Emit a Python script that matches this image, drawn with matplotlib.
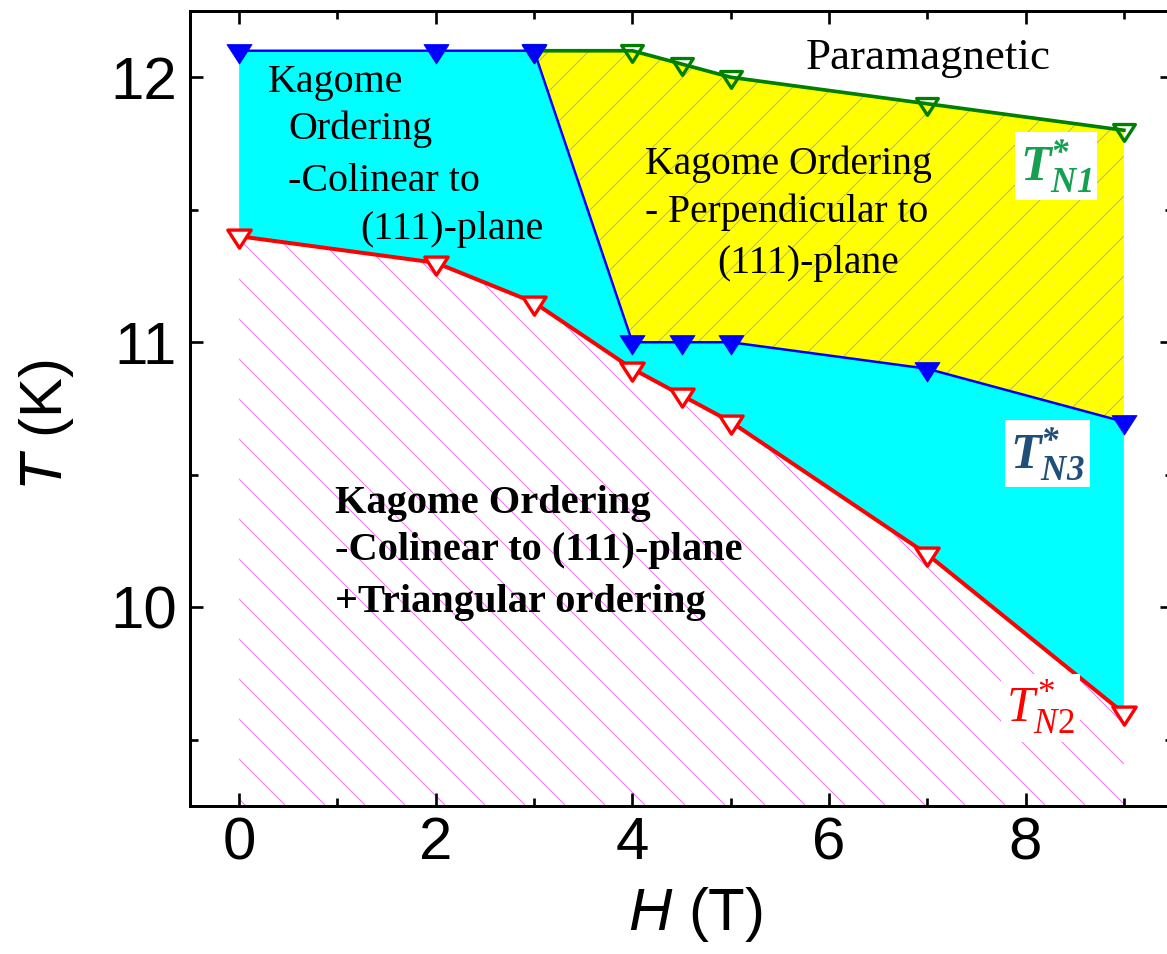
import numpy as np
import matplotlib
matplotlib.use("Agg")
import matplotlib.pyplot as plt
from matplotlib.ticker import MultipleLocator
from matplotlib.path import Path

# ---------------- data ----------------
H_N3 = [0, 2, 3, 4, 4.5, 5, 7, 9]
T_N3 = [12.1, 12.1, 12.1, 11.0, 11.0, 11.0, 10.9, 10.7]

H_N1 = [3, 4, 4.5, 5, 7, 9]
T_N1 = [12.1, 12.1, 12.05, 12.0, 11.9, 11.8]

H_N2 = [0, 2, 3, 4, 4.5, 5, 7, 9]
T_N2 = [11.4, 11.3, 11.15, 10.9, 10.8, 10.7, 10.2, 9.6]

x_ticks = [0, 2, 4, 6, 8]
y_ticks = [10, 11, 12]

# ---------------- style ----------------
plt.rcParams['hatch.linewidth'] = 0.6
plt.rcParams['mathtext.fontset'] = 'custom'
plt.rcParams['mathtext.it'] = 'Liberation Serif:italic'
plt.rcParams['mathtext.rm'] = 'Liberation Serif'
plt.rcParams['mathtext.bf'] = 'Liberation Serif:italic:bold'
plt.rcParams['mathtext.sf'] = 'Liberation Sans:italic'

DPI = 120
fig = plt.figure(figsize=(1167 / DPI, 954 / DPI), dpi=DPI)
ax = fig.add_axes([190 / 1167, 148 / 954, 983 / 1167, 795 / 954])

tri = Path([(-1, 0.55), (1, 0.55), (0, -1), (-1, 0.55)],
           [Path.MOVETO, Path.LINETO, Path.LINETO, Path.CLOSEPOLY])

# fills
ax.fill_between(H_N2, 9.0, T_N2, facecolor='white', edgecolor='#f070f0',
                hatch='\\', linewidth=0, zorder=1)
ax.fill_between(H_N3, T_N2, T_N3, facecolor='#00ffff', linewidth=0, zorder=1)
T_N3_arr = np.array(T_N3)
ax.fill_between(H_N1, T_N3_arr[2:], T_N1, facecolor='#ffff00',
                edgecolor='#b0b0b0', hatch='/', linewidth=0, zorder=1)

# lines
ax.plot(H_N1, T_N1, color='#008000', lw=2.2, marker=tri, ms=13,
        mfc='none', mec='#008000', mew=2, zorder=3)
ax.plot(H_N2, T_N2, color='#ff0000', lw=2.4, marker=tri, ms=14,
        mfc='white', mec='#ff0000', mew=2, zorder=3)
ax.plot(H_N3, T_N3, color='#0000ff', lw=1.5, marker=tri, ms=15,
        mfc='#0000ff', mec='#0000ff', mew=0.5, zorder=4)

# axes
ax.set_xlim(-0.5, 9.5)
ax.set_ylim(9.25, 12.25)
ax.set_xticks(x_ticks)
ax.set_yticks(y_ticks)
ax.xaxis.set_minor_locator(MultipleLocator(1))
ax.yaxis.set_minor_locator(MultipleLocator(0.5))
ax.tick_params(which='both', direction='in', top=True, right=True, width=1.6)
ax.tick_params(which='major', length=7.8)
ax.tick_params(axis='x', which='major', pad=6)
ax.tick_params(axis='y', which='major', pad=8)
ax.tick_params(which='minor', length=4.8)
for lab in ax.get_xticklabels() + ax.get_yticklabels():
    lab.set_fontfamily('Liberation Sans')
    lab.set_fontsize(36)
for s in ax.spines.values():
    s.set_linewidth(1.8)

ax.set_xlabel(r'$\mathsf{H}$ (T)', fontsize=36, family='Liberation Sans')
ax.set_ylabel(r'$\mathsf{T}$ (K)', fontsize=36, family='Liberation Sans')
ax.xaxis.set_label_coords(0.514, -0.10)
ax.yaxis.set_label_coords(-0.116, 0.479)

serif = 'Liberation Serif'
ax.text(5.76, 12.03, 'Paramagnetic', family=serif, fontsize=27, zorder=6)

for s, x, y in [('Kagome', 0.295, 11.944), ('Ordering', 0.50, 11.767),
                ('-Colinear to', 0.50, 11.571), ('(111)-plane', 1.23, 11.391)]:
    ax.text(x, y, s, family=serif, fontsize=24, zorder=6)

for s, x, y in [('Kagome Ordering', 4.13, 11.635),
                ('- Perpendicular to', 4.13, 11.455),
                ('(111)-plane', 4.86, 11.26)]:
    ax.text(x, y, s, family=serif, fontsize=23.8, zorder=6)

for s, y in [('Kagome Ordering', 10.357), ('-Colinear to (111)-plane', 10.177),
             ('+Triangular ordering', 9.981)]:
    ax.text(0.977, y, s, family=serif, fontsize=24.2, fontweight='bold', zorder=6)

box = dict(facecolor='white', edgecolor='none', pad=3)
ax.text(8.31, 11.665, r'$\mathbf{T^{*}_{N1}}$', color='#14a050', fontsize=30,
        ha='center', va='center', bbox=box, zorder=7)
ax.text(8.22, 10.58, r'$\mathbf{T^{*}_{N3}}$', color='#1f4e79', fontsize=30,
        ha='center', va='center', bbox=box, zorder=7)
ax.text(8.15, 9.62, r'$T^{*}_{\mathit{N2}}$', color='#ff0000', fontsize=30,
        ha='center', va='center', bbox=box, zorder=7)

fig.savefig('out.png', dpi=DPI)
